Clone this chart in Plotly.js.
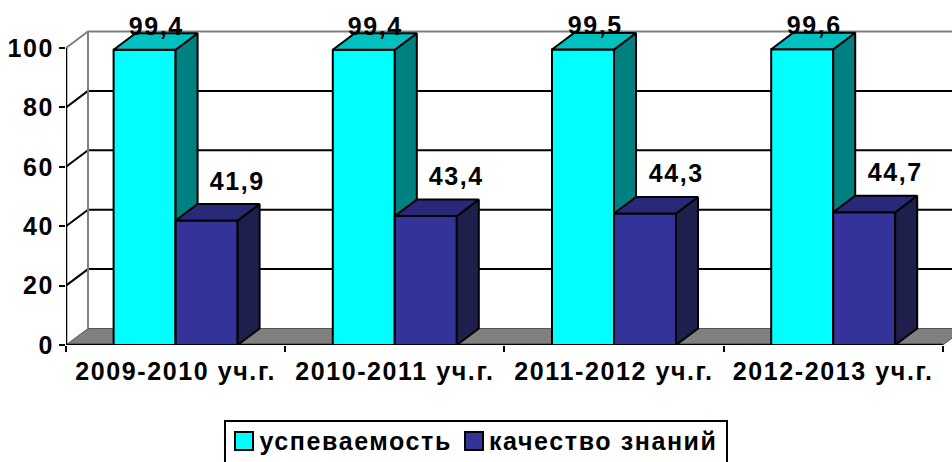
<!DOCTYPE html>
<html><head><meta charset="utf-8">
<script src="https://cdn.plot.ly/plotly-3.0.1.min.js"></script>
<style>html,body{margin:0;padding:0;background:#fff;} #chart{width:952px;height:462px;} #chart text{letter-spacing:1.6px;}</style>
</head><body><div id="chart"></div>
<script>
// ---- data ----
const categories = ['2009-2010 уч.г.', '2010-2011 уч.г.', '2011-2012 уч.г.', '2012-2013 уч.г.'];
const seriesNames = ['успеваемость', 'качество знаний'];
const uspevaemost = [99.4, 99.4, 99.5, 99.6];
const kachestvo = [41.9, 43.4, 44.3, 44.7];
const yTickVals = [0, 20, 40, 60, 80, 100];

// ---- styling / geometry ----
const FONT = 'Liberation Sans, Arial, sans-serif';
const LS = 1.6; // letter spacing (px) set in CSS
const PX_CAT = 219.2, PX_UNIT = 2.97;
const DX = 22 / PX_CAT, DY = 16.5 / PX_UNIT;     // 3-D depth in data units
const BW = 62 / PX_CAT;                          // bar width
const colors = [
  {front: '#00FFFF', top: '#00C0C0', side: '#008080'},
  {front: '#333399', top: '#29297A', side: '#1F1F4D'}
];
const seriesVals = [uspevaemost, kachestvo];
const labelShift = [{x: 12, y: 24}, {x: 31, y: 40}];
const xs = categories.map((c, i) => i);
const xMin = -0.5, xMax = categories.length - 0.5;
const plotW = 952 - 66;
const xRange = [xMin, xMin + plotW / PX_CAT];
const yRange = [0, 345 / PX_UNIT];
const yTop = yTickVals[yTickVals.length - 1];
const tf = {family: FONT, size: 25, color: '#000', weight: 'bold'};

const traces = [];
// floor
traces.push({type: 'scatter', mode: 'lines', fill: 'toself', fillcolor: '#808080',
  x: [xMin, xMax, xMax + DX, xMin + DX, xMin], y: [0, 0, DY, DY, 0],
  line: {color: '#555555', width: 1}, hoverinfo: 'skip', showlegend: false, zorder: 0});
// back wall gridlines
function segs(vals, fx) { const X = [], Y = []; vals.forEach(v => { const s = fx(v); X.push(s[0], s[2], null); Y.push(s[1], s[3], null); }); return {X, Y}; }
const inner = yTickVals.filter(v => v > 0 && v < yTop);
let g = segs(inner, v => [xMin + DX, v + DY, xRange[1] + 1, v + DY]);
traces.push({type: 'scatter', mode: 'lines', x: g.X, y: g.Y, line: {color: '#000', width: 2}, hoverinfo: 'skip', showlegend: false, zorder: 0});
g = segs(inner, v => [xMin, v, xMin + DX, v + DY]);
traces.push({type: 'scatter', mode: 'lines', x: g.X, y: g.Y, line: {color: '#000', width: 2}, hoverinfo: 'skip', showlegend: false, zorder: 0});
// top edge + back-left edge (grey)
traces.push({type: 'scatter', mode: 'lines',
  x: [xMin, xMin + DX, xRange[1] + 1, null, xMin + DX, xMin + DX],
  y: [yTop, yTop + DY, yTop + DY, null, DY, yTop + DY],
  line: {color: '#808080', width: 2}, hoverinfo: 'skip', showlegend: false, zorder: 0});
// front axes
traces.push({type: 'scatter', mode: 'lines', x: [xMin, xMin, null, xMin, xMax], y: [yTop, 0, null, 0, 0],
  line: {color: '#000', width: 2.5}, hoverinfo: 'skip', showlegend: false, zorder: 0});

// bars
seriesVals.forEach((vals, s) => {
  const off = s === 0 ? -BW : 0;
  traces.push({type: 'bar', name: seriesNames[s], x: xs, y: vals, width: BW, offset: off,
    marker: {color: colors[s].front, line: {color: '#000', width: 2}}, showlegend: false, zorder: 1 + 2 * s});
  const sx = [], sy = [], tx = [], ty = [];
  vals.forEach((v, i) => {
    const l = i + off, r = l + BW;
    sx.push(r, r + DX, r + DX, r, r, null); sy.push(0, DY, v + DY, v, 0, null);
    tx.push(l, r, r + DX, l + DX, l, null); ty.push(v, v, v + DY, v + DY, v, null);
  });
  traces.push({type: 'scatter', mode: 'lines', fill: 'toself', fillcolor: colors[s].side, x: sx, y: sy,
    line: {color: '#000', width: 2}, hoverinfo: 'skip', showlegend: false, zorder: 2 + 2 * s});
  traces.push({type: 'scatter', mode: 'lines', fill: 'toself', fillcolor: colors[s].top, x: tx, y: ty,
    line: {color: '#000', width: 2}, hoverinfo: 'skip', showlegend: false, zorder: 2 + 2 * s});
});

const annotations = [];
seriesVals.forEach((vals, s) => {
  vals.forEach((v, i) => {
    annotations.push({x: i + (s === 0 ? -BW / 2 : BW / 2), y: v, xref: 'x', yref: 'y',
      text: v.toFixed(1).replace('.', ','), showarrow: false, xshift: labelShift[s].x, yshift: labelShift[s].y,
      font: tf});
  });
});
// custom legend
const px2x = px => (px - 66) / plotW, px2y = py => (345 - py) / 345;
const shapes = [
  {type: 'rect', xref: 'paper', yref: 'paper', x0: px2x(225), x1: px2x(727), y0: px2y(468), y1: px2y(421), line: {color: '#000', width: 2}, fillcolor: '#fff'}
];
const legPos = [235, 465], legText = [255, 485];
seriesNames.forEach((n, s) => {
  shapes.push({type: 'rect', xref: 'paper', yref: 'paper', x0: px2x(legPos[s]), x1: px2x(legPos[s] + 18), y0: px2y(450), y1: px2y(432),
    line: {color: '#000', width: 2}, fillcolor: colors[s].front});
  annotations.push({xref: 'paper', yref: 'paper', x: px2x(legText[s]), y: px2y(441), xanchor: 'left', yanchor: 'middle',
    xshift: n.length * LS / 2 + 2,
    text: n, showarrow: false, font: tf});
});

const layout = {
  width: 952, height: 462, margin: {l: 66, r: 0, t: 0, b: 117},
  paper_bgcolor: '#fff', plot_bgcolor: '#fff', showlegend: false, barmode: 'overlay',
  xaxis: {range: xRange, tickvals: xs, ticktext: categories, ticks: '', showgrid: false, zeroline: false, showline: false,
    ticklabelstandoff: 9,
    minor: {tickvals: categories.map((c, i) => i - 0.5).concat([xMax]), ticks: 'outside', ticklen: 6, tickwidth: 2, tickcolor: '#000', showgrid: false},
    tickfont: tf, fixedrange: true},
  yaxis: {range: yRange, tickvals: yTickVals, ticks: 'outside', ticklen: 6, tickwidth: 2, tickcolor: '#000', showgrid: false,
    zeroline: false, showline: false, tickfont: tf, fixedrange: true},
  annotations: annotations, shapes: shapes
};
Plotly.newPlot('chart', traces, layout, {displayModeBar: false, staticPlot: true});
</script></body></html>
